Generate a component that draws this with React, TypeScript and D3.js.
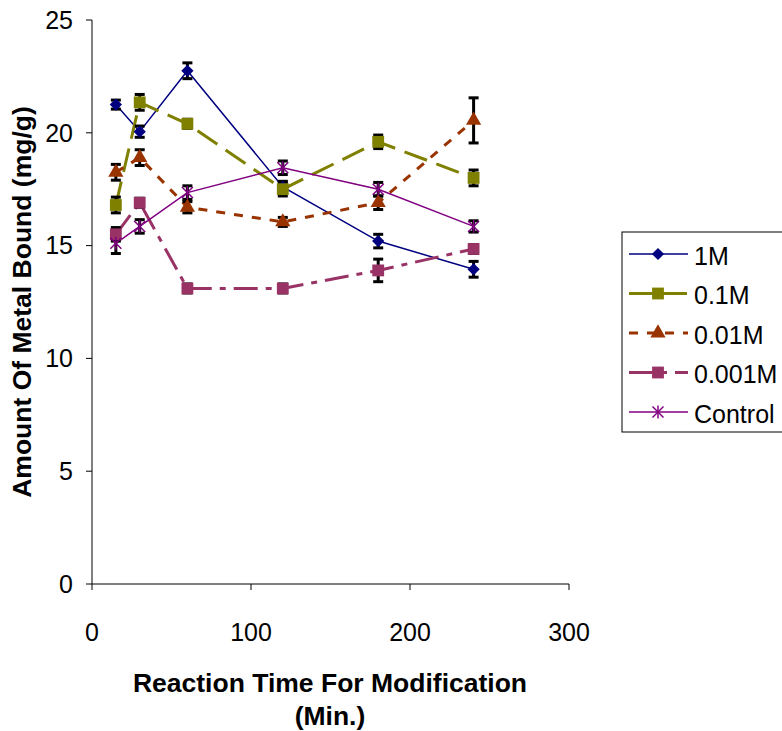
import React from 'react';
import * as d3 from 'd3';

const times = [15, 30, 60, 120, 180, 240];
const seriesNames = ['1M', '0.1M', '0.01M', '0.001M', 'Control'];
const m1 = [21.25, 20.05, 22.75, 17.6, 15.2, 13.95];
const m01 = [16.8, 21.35, 20.4, 17.5, 19.6, 18.0];
const m001 = [18.25, 18.9, 16.7, 16.05, 16.9, 20.55];
const m0001 = [15.5, 16.9, 13.1, 13.1, 13.9, 14.85];
const control = [15.1, 15.85, 17.35, 18.45, 17.5, 15.85];
const err1 = [0.2, 0.25, 0.35, 0.25, 0.3, 0.35];
const err01 = [0.35, 0.35, 0.2, 0.3, 0.3, 0.35];
const err001 = [0.35, 0.35, 0.25, 0.2, 0.3, 1.0];
const err0001 = [0.3, 0.2, 0.2, 0.2, 0.5, 0.2];
const errControl = [0.45, 0.3, 0.3, 0.3, 0.3, 0.25];
const xTicks = [0, 100, 200, 300];
const yTicks = [0, 5, 10, 15, 20, 25];

const styles = [
  { color: '#000080', width: 1.5, dash: '', symbol: d3.symbolSquare, size: 75, rotate: 45 },
  { color: '#808000', width: 3, dash: '24,10', symbol: d3.symbolSquare, size: 140, rotate: 0 },
  { color: '#993300', width: 3, dash: '9,9', symbol: d3.symbolTriangle, size: 100, rotate: 0 },
  { color: '#993366', width: 3, dash: '24,8,6,8', symbol: d3.symbolSquare, size: 140, rotate: 0 },
  { color: '#800080', width: 1.5, dash: '', symbol: null, size: 0, rotate: 0 },
];

const allValues = [m1, m01, m001, m0001, control];
const allErrors = [err1, err01, err001, err0001, errControl];

const x = d3.scaleLinear().domain([0, 300]).range([92, 569]);
const y = d3.scaleLinear().domain([0, 25]).range([584, 20]);

const Marker = ({ s, cx, cy }: { s: any; cx: number; cy: number }) => {
  if (!s.symbol) {
    const r = 5.5;
    return (
      <g stroke={s.color} strokeWidth={1.5}>
        <line x1={cx - r} y1={cy - r} x2={cx + r} y2={cy + r} />
        <line x1={cx - r} y1={cy + r} x2={cx + r} y2={cy - r} />
        <line x1={cx} y1={cy - r - 1} x2={cx} y2={cy + r + 1} />
      </g>
    );
  }
  const p = d3.symbol().type(s.symbol).size(s.size)() as string;
  return <path d={p} transform={`translate(${cx},${cy}) rotate(${s.rotate})`} fill={s.color} />;
};

export default function App() {
  const line = d3.line<number>().x((_, i) => x(times[i])).y((d) => y(d));
  const font = 'Arial, "Liberation Sans", sans-serif';
  return (
    <div style={{ position: 'absolute', left: 0, top: 0 }}>
      <svg width={782} height={731} style={{ display: 'block', background: '#fff' }} fontFamily={font}>
        {/* axes */}
        <line x1={x(0)} y1={y(0)} x2={x(300)} y2={y(0)} stroke="#000" strokeWidth={1} />
        <line x1={x(0)} y1={y(0)} x2={x(0)} y2={y(25)} stroke="#000" strokeWidth={1} />
        {yTicks.map((t) => (
          <g key={'y' + t}>
            <line x1={x(0) - 6} x2={x(0)} y1={y(t)} y2={y(t)} stroke="#000" />
            <text x={73} y={y(t)} dy="0.35em" textAnchor="end" fontSize={25}>{t}</text>
          </g>
        ))}
        {xTicks.map((t) => (
          <g key={'x' + t}>
            <line x1={x(t)} x2={x(t)} y1={y(0)} y2={y(0) + 6} stroke="#000" />
            <text x={x(t)} y={632} dy="0.35em" textAnchor="middle" fontSize={25}>{t}</text>
          </g>
        ))}
        <text x={330} y={683} dy="0.35em" textAnchor="middle" fontSize={26.5} fontWeight="bold">Reaction Time For Modification</text>
        <text x={330} y={716} dy="0.35em" textAnchor="middle" fontSize={26.5} fontWeight="bold">(Min.)</text>
        <text transform={`translate(22,302) rotate(-90)`} dy="0.35em" textAnchor="middle" fontSize={26.5} fontWeight="bold">Amount Of Metal Bound (mg/g)</text>

        {/* series lines */}
        {allValues.map((vals, si) => (
          <path key={'l' + si} d={line(vals) as string} fill="none" stroke={styles[si].color}
            strokeWidth={styles[si].width} strokeDasharray={styles[si].dash} />
        ))}
        {/* error bars */}
        {allValues.map((vals, si) => (
          <g key={'e' + si} stroke="#000" strokeWidth={3}>
            {vals.map((v, i) => {
              const cx = x(times[i]);
              const e = allErrors[si][i];
              return (
                <g key={i}>
                  <line x1={cx} x2={cx} y1={y(v - e)} y2={y(v + e)} />
                  <line x1={cx - 5} x2={cx + 5} y1={y(v - e)} y2={y(v - e)} />
                  <line x1={cx - 5} x2={cx + 5} y1={y(v + e)} y2={y(v + e)} />
                </g>
              );
            })}
          </g>
        ))}
        {/* markers */}
        {allValues.map((vals, si) => (
          <g key={'m' + si}>
            {vals.map((v, i) => (
              <Marker key={i} s={styles[si]} cx={x(times[i])} cy={y(v)} />
            ))}
          </g>
        ))}

        {/* legend */}
        <rect x={622} y={232} width={200} height={200} fill="#fff" stroke="#000" strokeWidth={1} />
        {seriesNames.map((name, i) => {
          const ly = 254 + i * 39.5;
          return (
            <g key={'lg' + i}>
              <line x1={629} x2={688} y1={ly} y2={ly} stroke={styles[i].color} strokeWidth={styles[i].width}
                strokeDasharray={styles[i].dash} />
              <Marker s={styles[i]} cx={658} cy={ly} />
              <text x={694} y={ly + 2} dy="0.35em" fontSize={25}>{name}</text>
            </g>
          );
        })}
      </svg>
    </div>
  );
}
